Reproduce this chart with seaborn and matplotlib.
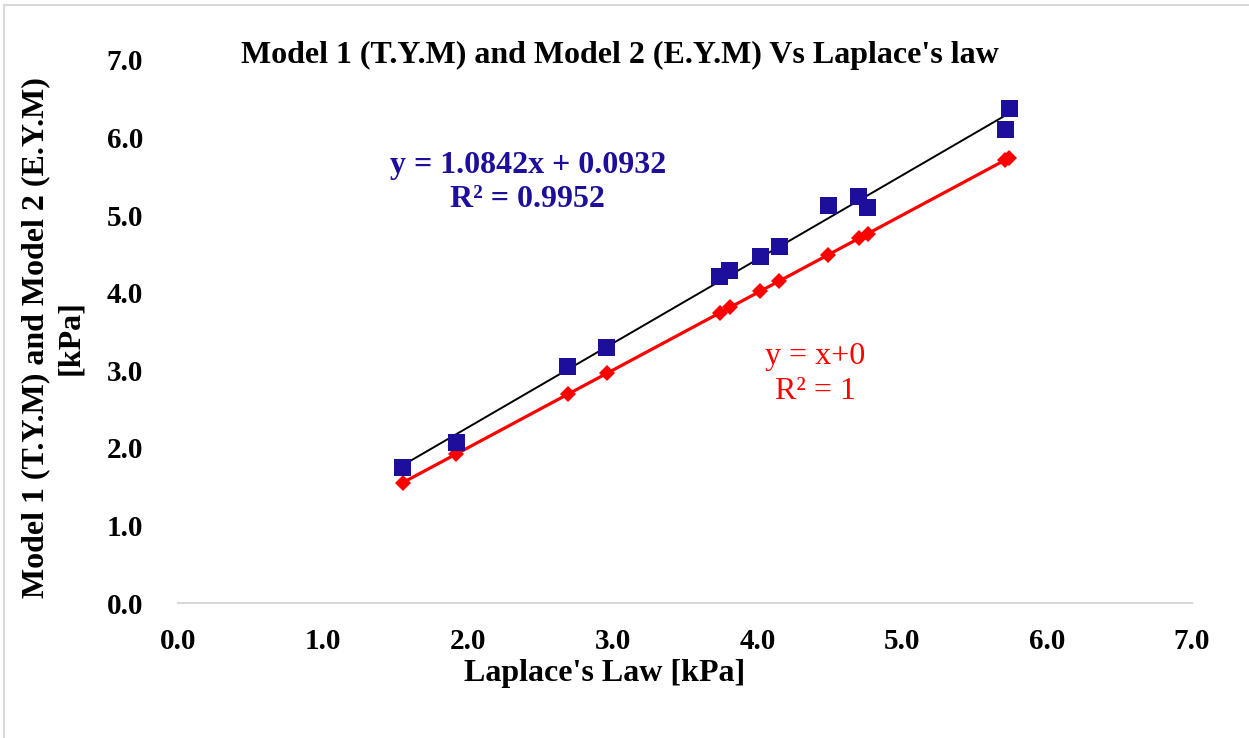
import numpy as np
import pandas as pd
import matplotlib
matplotlib.use("Agg")
import matplotlib.pyplot as plt
import seaborn as sns

# Laplace's law pressure (x) and model pressures (y), kPa
laplace = [1.55, 1.92, 2.69, 2.96, 3.74, 3.81, 4.02, 4.15, 4.49, 4.70, 4.76, 5.71, 5.74]
model_tym_eym = [1.75, 2.07, 3.05, 3.30, 4.21, 4.29, 4.47, 4.60, 5.13, 5.24, 5.10, 6.10, 6.38]

# Linear trend of the model series
slope, intercept, r2 = 1.0842, 0.0932, 0.9952

ticks = [0, 1, 2, 3, 4, 5, 6, 7]
tick_labels = ["0.0", "1.0", "2.0", "3.0", "4.0", "5.0", "6.0", "7.0"]

blue = "#1D0E9C"
red = "#FF0000"

sns.set_theme(style="white")
plt.rcParams["font.family"] = ["Liberation Serif", "DejaVu Serif"]
plt.rcParams["text.color"] = "black"
plt.rcParams["xtick.color"] = "black"
plt.rcParams["ytick.color"] = "black"

df = pd.DataFrame({"laplace": laplace, "model": model_tym_eym})

fig = plt.figure(figsize=(12.49, 7.38), dpi=100)
ax = fig.add_axes([178 / 1249, 1 - 603 / 738, (1192 - 178) / 1249, (603 - 60) / 738])

# y = x reference series (red line with diamonds)
sns.lineplot(data=df, x="laplace", y="laplace", ax=ax, color=red, linewidth=2.3,
             marker="D", markersize=8.5, markeredgewidth=0, zorder=3)

# trend line of the model series
xs = np.array([min(laplace), max(laplace)])
sns.lineplot(x=xs, y=slope * xs + intercept, ax=ax, color="black", linewidth=1.4, zorder=4)

# model points
sns.scatterplot(data=df, x="laplace", y="model", ax=ax, color=blue, marker="s",
                s=150, edgecolor="none", zorder=5)

ax.set_xlim(0, 7)
ax.set_ylim(0, 7)
ax.set_xticks(ticks)
ax.set_xticklabels(tick_labels)
ax.set_yticks(ticks)
ax.set_yticklabels(tick_labels)
ax.tick_params(axis="both", length=0, labelsize=21, colors="black")
ax.tick_params(axis="x", pad=18)
ax.tick_params(axis="y", pad=25)
for lbl in ax.get_xticklabels() + ax.get_yticklabels():
    lbl.set_fontweight("bold")
for side in ["left", "right", "top"]:
    ax.spines[side].set_visible(False)
ax.spines["bottom"].set_color("#D9D9D9")
ax.spines["bottom"].set_linewidth(1.5)
ax.set_xlabel("")
ax.set_ylabel("")
ax.grid(False)

ax.text(2.415, 5.42, f"y = {slope}x + {intercept}\nR² = {r2}", color=blue,
        fontsize=23, fontweight="bold", ha="center", va="center", linespacing=1.25)
ax.text(4.40, 2.95, "y = x+0\nR² = 1", color=red, fontsize=23,
        ha="center", va="center", linespacing=1.25)

fig.text(620 / 1249, 1 - 55 / 738, "Model 1 (T.Y.M) and Model 2 (E.Y.M) Vs Laplace's law",
         fontsize=23, fontweight="bold", ha="center", va="center")
fig.text(605 / 1249, 1 - 673 / 738, "Laplace's Law [kPa]", fontsize=23,
         fontweight="bold", ha="center", va="center")
fig.text(36 / 1249, 1 - 338 / 738, "Model 1 (T.Y.M) and Model 2 (E.Y.M)", fontsize=23,
         fontweight="bold", ha="center", va="center", rotation=90)
fig.text(71 / 1249, 1 - 338 / 738, "[kPa]", fontsize=23,
         fontweight="bold", ha="center", va="center", rotation=90)

# light frame around the chart area
fig.add_artist(plt.Line2D([4 / 1249, 4 / 1249], [0, 1 - 5 / 738], color="#D9D9D9",
                          linewidth=1.5, transform=fig.transFigure))
fig.add_artist(plt.Line2D([4 / 1249, 1], [1 - 5 / 738, 1 - 5 / 738], color="#D9D9D9",
                          linewidth=1.5, transform=fig.transFigure))

fig.savefig("out.png", dpi=100)
